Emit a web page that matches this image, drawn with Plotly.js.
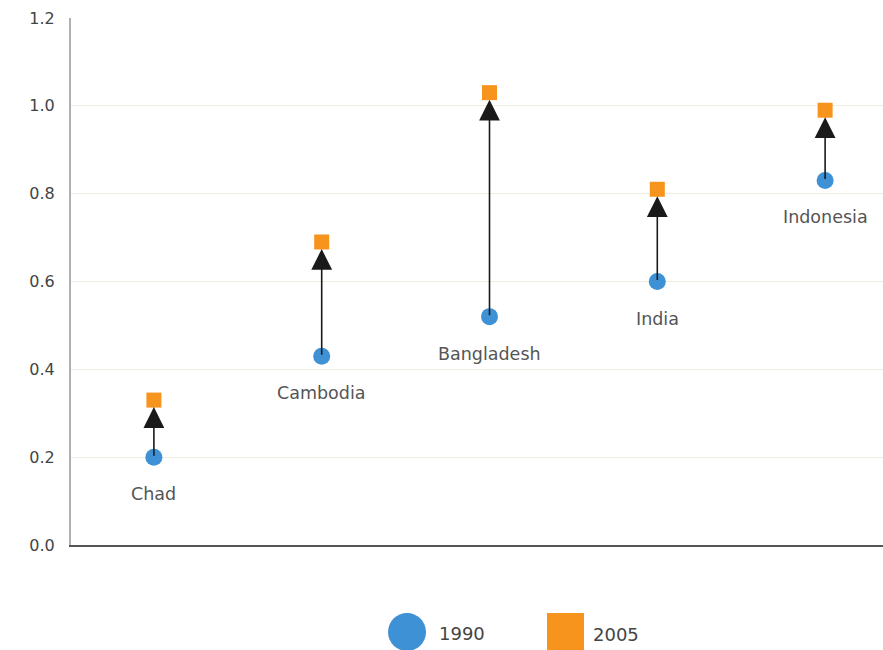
<!DOCTYPE html>
<html><head><meta charset="utf-8">
<script src="https://cdn.plot.ly/plotly-3.0.1.min.js"></script>
<style>body{margin:0;background:#fff}#chart{width:883px;height:650px}</style>
</head><body><div id="chart"></div>
<script>
const countries = ["Chad", "Cambodia", "Bangladesh", "India", "Indonesia"];
const values1990 = [0.20, 0.43, 0.52, 0.60, 0.83];
const values2005 = [0.33, 0.69, 1.03, 0.81, 0.99];
const yTicks = [0, 0.2, 0.4, 0.6, 0.8, 1.0, 1.2];
const yTickText = ["0.0", "0.2", "0.4", "0.6", "0.8", "1.0", "1.2"];
const legendNames = ["1990", "2005"];

const xs = countries.map((c, i) => i);
const font = "'DejaVu Sans', Verdana, sans-serif";

const t1990 = {
  x: xs, y: values1990, type: "scatter", mode: "markers", name: legendNames[0],
  marker: {symbol: "circle", size: 17, color: "#3d91d4"}, cliponaxis: false
};
const t2005 = {
  x: xs, y: values2005, type: "scatter", mode: "markers", name: legendNames[1],
  marker: {symbol: "square", size: 15, color: "#f7941d"}, cliponaxis: false
};

const annotations = [];
xs.forEach((x, i) => {
  annotations.push({
    x: x, y: values2005[i], ax: x, ay: values1990[i], xref: "x", yref: "y", axref: "x", ayref: "y",
    showarrow: true, arrowhead: 2, arrowsize: 2.6, arrowwidth: 1.6, arrowcolor: "#1a1a1a",
    standoff: 7, startstandoff: 0, text: ""
  });
  annotations.push({
    x: x, y: values1990[i], xref: "x", yref: "y", text: countries[i], showarrow: false,
    yshift: -37, font: {family: font, size: 17.5, color: "#555"}
  });
});
annotations.push({xref: "paper", yref: "paper", x: (437 - 71) / 812, y: (545 - 633) / 527, xanchor: "left", yanchor: "middle", text: legendNames[0], showarrow: false, font: {family: font, size: 18, color: "#444"}});
annotations.push({xref: "paper", yref: "paper", x: (591 - 71) / 812, y: (545 - 634) / 527, xanchor: "left", yanchor: "middle", text: legendNames[1], showarrow: false, font: {family: font, size: 18, color: "#444"}});

const shapes = [
  {type: "circle", xref: "paper", yref: "paper", x0: (388 - 71) / 812, x1: (426 - 71) / 812, y0: (545 - 651) / 527, y1: (545 - 613) / 527, fillcolor: "#3d91d4", line: {width: 0}},
  {type: "rect", xref: "paper", yref: "paper", x0: (547 - 71) / 812, x1: (584 - 71) / 812, y0: (545 - 650) / 527, y1: (545 - 613) / 527, fillcolor: "#f7941d", line: {width: 0}}
];

const layout = {
  width: 883, height: 650,
  margin: {l: 71, r: 0, t: 18, b: 105},
  paper_bgcolor: "#fff", plot_bgcolor: "#fff",
  showlegend: false,
  xaxis: {range: [-0.494, 4.345], showgrid: false, zeroline: false, showticklabels: false, ticks: "",
    showline: true, linecolor: "#555", linewidth: 1.5},
  yaxis: {range: [0, 1.2], tickvals: yTicks, ticktext: yTickText, showgrid: true, gridcolor: "#eeeddf", gridwidth: 1,
    zeroline: false, showline: true, linecolor: "#b0b0b0", linewidth: 2, ticks: "", ticklabelstandoff: 11,
    tickfont: {family: font, size: 16, color: "#444"}},
  annotations: annotations,
  shapes: shapes
};

Plotly.newPlot("chart", [t1990, t2005], layout, {displayModeBar: false, staticPlot: true});
</script></body></html>
